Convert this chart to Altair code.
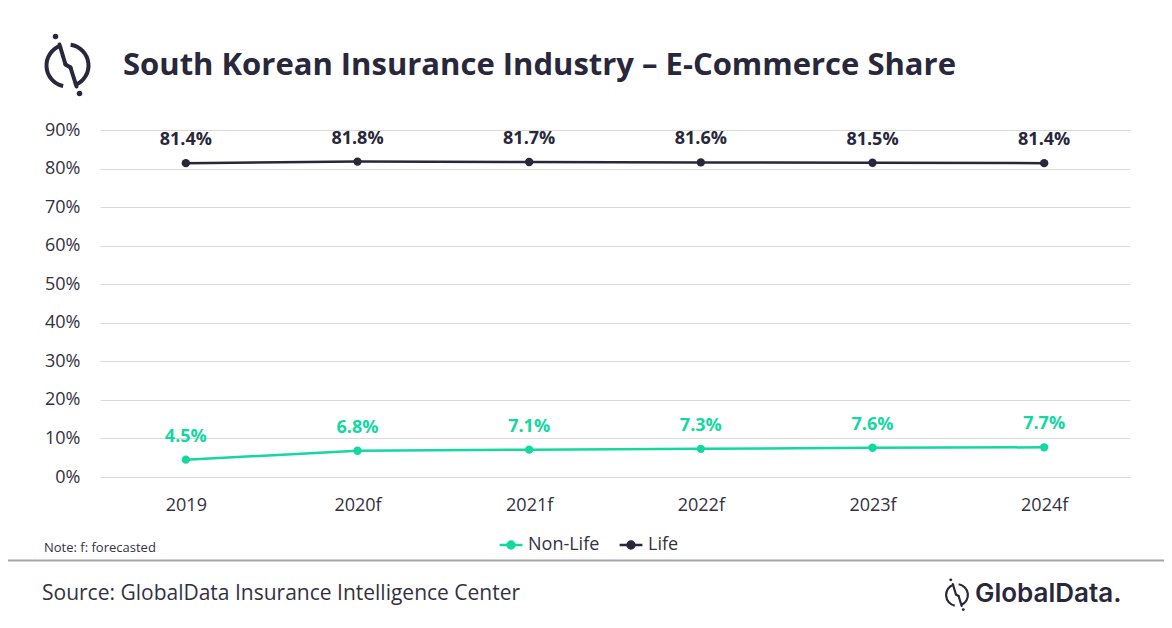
import altair as alt
import pandas as pd

# chart values
years = ["2019", "2020f", "2021f", "2022f", "2023f", "2024f"]
non_life = [4.5, 6.8, 7.1, 7.3, 7.6, 7.7]
life = [81.4, 81.8, 81.7, 81.6, 81.5, 81.4]
series = ["Non-Life", "Life"]
y_ticks = [0, 10, 20, 30, 40, 50, 60, 70, 80, 90]

title_text = "South Korean Insurance Industry \u2013 E-Commerce Share"
note_text = "Note: f: forecasted"
source_text = "Source: GlobalData Insurance Intelligence Center"

GREEN = "#14d7a2"
NAVY = "#28273b"
TEXT = "#333142"

df = pd.DataFrame({
    "year": years * 2,
    "value": non_life + life,
    "series": ["Non-Life"] * len(years) + ["Life"] * len(years),
})
df["label"] = df["value"].map(lambda v: f"{v:.1f}%")

W, H = 1030, 347

x_enc = alt.X("year:N", sort=years, title=None,
              scale=alt.Scale(paddingInner=0, paddingOuter=0.5),
              axis=alt.Axis(labelAngle=0, labelFontSize=18, labelColor=TEXT,
                            labelPadding=19, ticks=False, domain=False,
                            labelFont="Open Sans", grid=False))
y_enc = alt.Y("value:Q", title=None,
              scale=alt.Scale(domain=[0, 90], nice=False),
              axis=alt.Axis(values=y_ticks, labelExpr="datum.value + '%'",
                            labelFontSize=18, labelColor=TEXT, labelPadding=20,
                            ticks=False, domain=False, labelFont="Open Sans",
                            grid=True, gridColor="#d9d9d9", gridWidth=1))
color_scale = alt.Scale(domain=series, range=[GREEN, NAVY])

base = alt.Chart(df)

lines = base.mark_line(strokeWidth=2.5).encode(
    x=x_enc, y=y_enc,
    color=alt.Color("series:N", scale=color_scale, title=None,
                    legend=alt.Legend(
                        orient="none", legendX=398, legendY=402, direction="horizontal",
                        symbolType="M-1,0H1M-0.3,0a0.3,0.3 0 1,0 0.6,0a0.3,0.3 0 1,0 -0.6,0",
                        symbolSize=520, symbolStrokeWidth=2.5, labelFontSize=18,
                        labelColor=TEXT, labelFont="Open Sans", columnPadding=14,
                        labelOffset=4)),
)
points = base.mark_circle(size=70, opacity=1).encode(
    x=x_enc, y=y_enc, color=alt.Color("series:N", legend=None, scale=color_scale))
labels = base.mark_text(dy=-23, fontSize=18, fontWeight="bold", font="Open Sans").encode(
    x=x_enc, y=y_enc, text="label:N",
    color=alt.Color("series:N", legend=None, scale=color_scale))

one = alt.Data(values=[{}])


def deco_text(text, x, y, size, weight="normal", color=TEXT, font="Open Sans"):
    return alt.Chart(one).mark_text(
        text=text, align="left", baseline="alphabetic", fontSize=size,
        fontWeight=weight, color=color, font=font,
    ).encode(x=alt.value(x), y=alt.value(y))


def rule(x, y, x2, y2, color, width):
    return alt.Chart(one).mark_rule(color=color, strokeWidth=width, strokeCap="round").encode(
        x=alt.value(x), y=alt.value(y), x2=alt.value(x2), y2=alt.value(y2))


def logo(cx, cy, r, sw):
    # GlobalData style ring with slash
    parts = []
    for t1, t2 in [(0.15, 2.75), (3.35, 5.95)]:
        parts.append(alt.Chart(one).mark_arc(color=NAVY).encode(
            x=alt.value(cx), y=alt.value(cy),
            theta=alt.value(t1), theta2=alt.value(t2),
            radius=alt.value(r), radius2=alt.value(r - sw)))
    k = r / 23.0
    parts.append(rule(cx - 8 * k, cy - 21 * k, cx - 2 * k, cy - 1 * k, NAVY, sw))
    parts.append(rule(cx - 2 * k, cy - 1 * k, cx + 3 * k, cy + 2 * k, NAVY, sw))
    parts.append(rule(cx + 3 * k, cy + 2 * k, cx + 9 * k, cy + 21 * k, NAVY, sw))
    parts.append(alt.Chart(one).mark_circle(color=NAVY, opacity=1, size=30 * k * k).encode(
        x=alt.value(cx - 12 * k), y=alt.value(cy - 29 * k)))
    parts.append(alt.Chart(one).mark_circle(color=NAVY, opacity=1, size=30 * k * k).encode(
        x=alt.value(cx + 12 * k), y=alt.value(cy + 28 * k)))
    return parts


deco = [
    deco_text(title_text, 23, -55, 31, "bold", NAVY),
    deco_text(note_text, -56, 422, 13),
    rule(-92, 430.5, 1064, 430.5, "#a6a6a6", 2),
    deco_text(source_text, -58, 470, 21),
    deco_text("GlobalData.", 875, 472, 26, 600, NAVY, "Inter"),
] + logo(-32.5, -64.5, 23, 4) + logo(857, 465, 12, 2.2)

chart = alt.layer(lines, points, labels, *deco).properties(
    width=W, height=H,
    autosize=alt.AutoSizeParams(type="none"),
    padding={"left": 92, "top": 122, "right": 34, "bottom": 143},
    background="white",
).configure_view(stroke=None)

chart.save("out.html", embed_options={"renderer": "svg", "actions": False})
